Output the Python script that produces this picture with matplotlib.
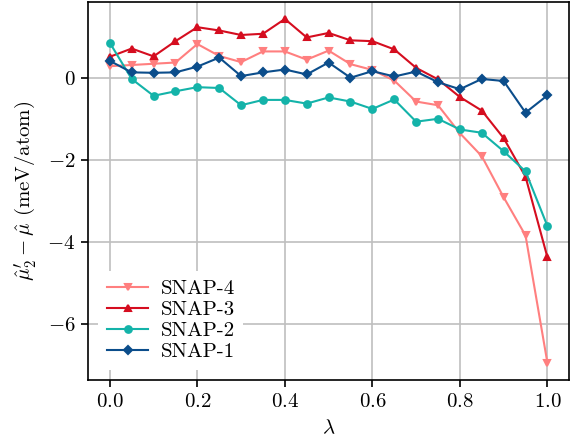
import matplotlib
matplotlib.use("Agg")
import matplotlib.pyplot as plt
import numpy as np

# Шрифт в стиле LaTeX (Computer Modern)
plt.rcParams['font.family'] = 'serif'
plt.rcParams['font.serif'] = ['cmr10', 'DejaVu Serif']
plt.rcParams['mathtext.fontset'] = 'cm'
plt.rcParams['axes.formatter.use_mathtext'] = True
plt.rcParams['font.size'] = 10

# Данные
lam = [0.0, 0.05, 0.1, 0.15, 0.2, 0.25, 0.3, 0.35, 0.4, 0.45, 0.5,
       0.55, 0.6, 0.65, 0.7, 0.75, 0.8, 0.85, 0.9, 0.95, 1.0]

snap4 = [0.28, 0.31, 0.34, 0.37, 0.82, 0.53, 0.38, 0.64, 0.64, 0.44, 0.66,
         0.33, 0.19, -0.07, -0.58, -0.67, -1.35, -1.91, -2.91, -3.84, -6.94]
snap3 = [0.51, 0.71, 0.52, 0.89, 1.23, 1.15, 1.04, 1.07, 1.43, 0.98, 1.09,
         0.91, 0.89, 0.69, 0.24, -0.04, -0.47, -0.80, -1.47, -2.41, -4.37]
snap2 = [0.85, -0.03, -0.44, -0.33, -0.23, -0.25, -0.67, -0.54, -0.54, -0.63, -0.48,
         -0.58, -0.76, -0.53, -1.07, -1.00, -1.26, -1.34, -1.79, -2.28, -3.61]
snap1 = [0.41, 0.13, 0.12, 0.13, 0.27, 0.49, 0.04, 0.13, 0.20, 0.08, 0.37,
         0.00, 0.16, 0.03, 0.15, -0.11, -0.28, -0.03, -0.08, -0.85, -0.43]

series = [
    ('SNAP-4', snap4, '#ff7f7f', 'v'),
    ('SNAP-3', snap3, '#d50d1f', '^'),
    ('SNAP-2', snap2, '#14b3a9', 'o'),
    ('SNAP-1', snap1, '#0b4d8b', 'D'),
]

fig = plt.figure(figsize=(571 / 150, 445 / 150), dpi=150)
ax = fig.add_axes([0.154, 0.146, 0.843, 0.85])

for name, vals, col, mk in series:
    ms = 2.6 if mk == 'D' else 3.2
    ax.plot(lam, vals, color=col, marker=mk, markersize=ms, linewidth=1.0, label=name)

ax.set_xlabel(r'$\lambda$')
ax.set_ylabel(r"$\hat{\mu}_2^{\prime} - \hat{\mu}$ (meV/atom)")
ax.set_xticks(np.arange(0, 1.01, 0.2))
ax.set_yticks([-6, -4, -2, 0])
ax.tick_params(pad=2.5)
ax.grid(True, color='0.75', linewidth=0.8)
ax.set_axisbelow(True)

leg = ax.legend(loc='lower left', framealpha=1.0, edgecolor='none', fancybox=False,
                labelspacing=0.12, handletextpad=0.6)

fig.savefig('out.png', dpi=150)
